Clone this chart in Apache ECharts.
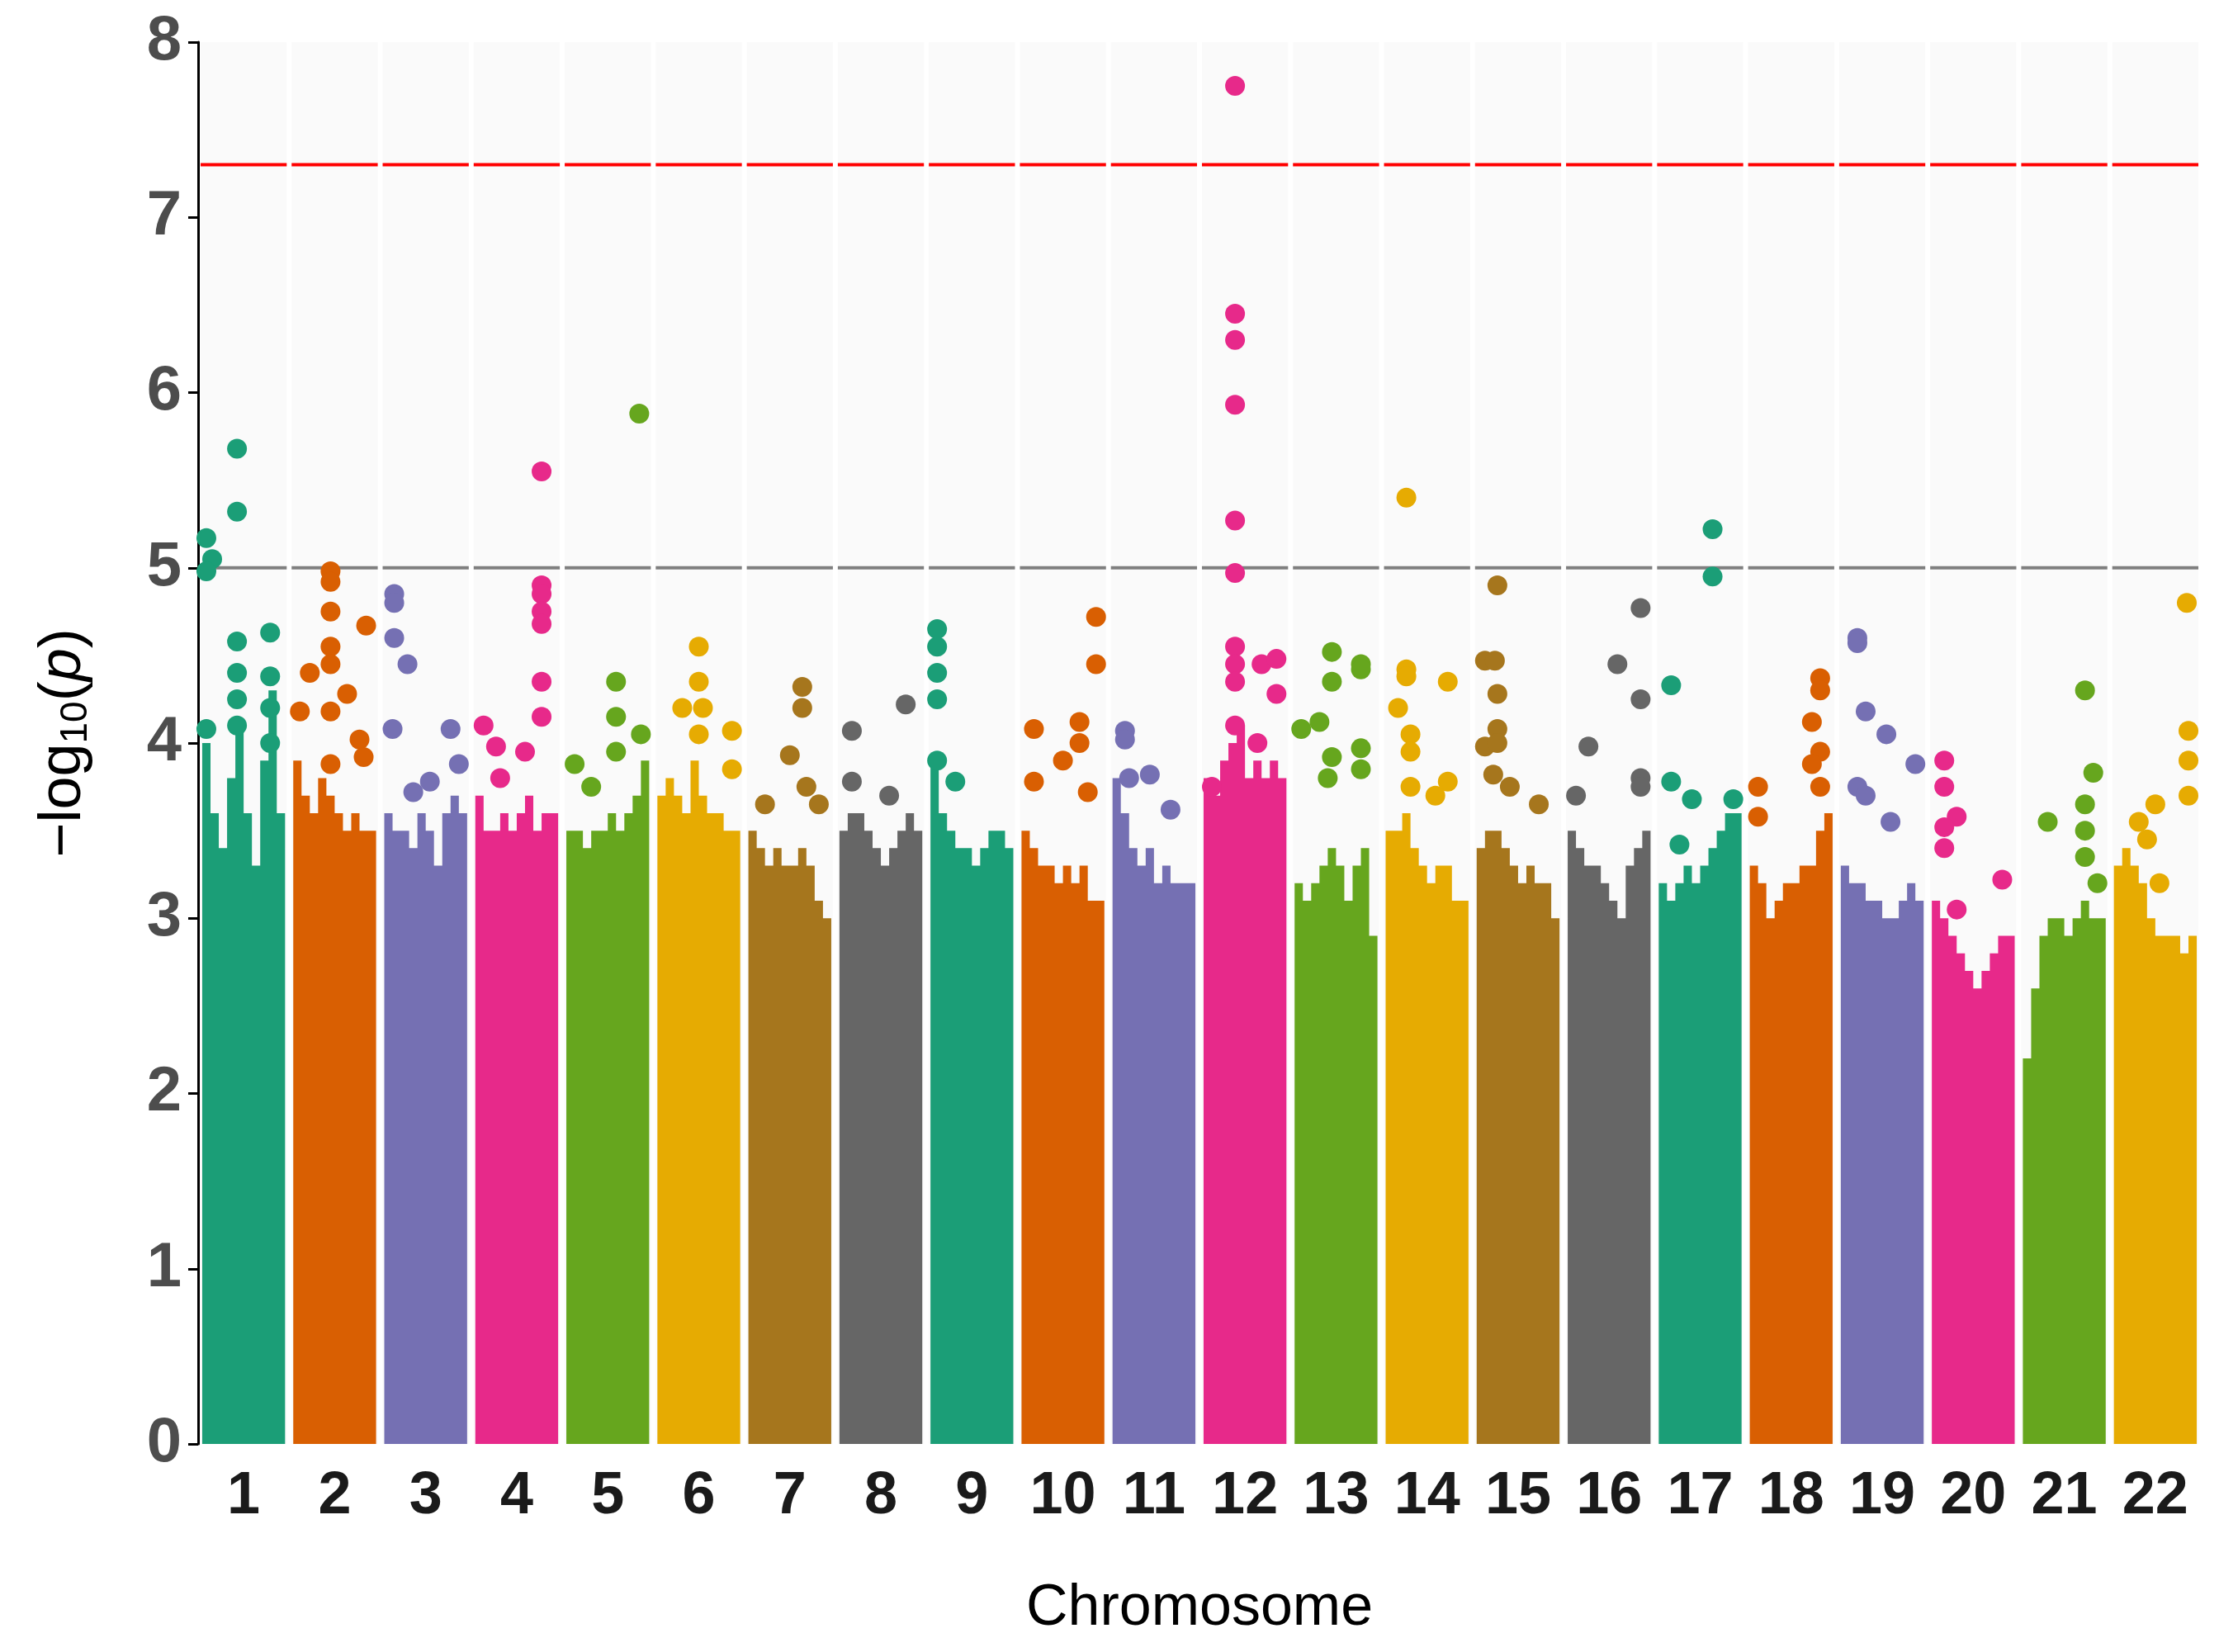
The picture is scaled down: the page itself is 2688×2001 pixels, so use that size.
<!DOCTYPE html>
<html>
<head>
<meta charset="utf-8">
<script src="https://cdn.jsdelivr.net/npm/echarts@6/dist/echarts.min.js"></script>
<style>html,body{margin:0;padding:0;background:#fff}#chart{width:2688px;height:2001px}</style>
</head>
<body>
<div id="chart"></div>
<script>
// chromosome names and Dark2 colours
const chromosomes = ['1','2','3','4','5','6','7','8','9','10','11','12','13','14','15','16','17','18','19','20','21','22'];
const palette = ['#1B9E77','#D95F02','#7570B3','#E7298A','#66A61E','#E6AB02','#A6761D','#666666'];
const yTicks = [0, 1, 2, 3, 4, 5, 6, 7, 8];
const genomeLine = 7.3;
const suggestiveLine = 5;

// ragged top of the dense point cloud, per chromosome (left to right)
const bodyTop = [
  [4.0,3.6,3.4,3.8,4.1,3.6,3.3,3.9,4.3,3.6],
  [3.9,3.7,3.6,3.8,3.7,3.6,3.5,3.6,3.5,3.5],
  [3.6,3.5,3.5,3.4,3.6,3.5,3.3,3.6,3.7,3.6],
  [3.7,3.5,3.5,3.6,3.5,3.6,3.7,3.5,3.6,3.6],
  [3.5,3.5,3.4,3.5,3.5,3.6,3.5,3.6,3.7,3.9],
  [3.7,3.8,3.7,3.6,3.9,3.7,3.6,3.6,3.5,3.5],
  [3.5,3.4,3.3,3.4,3.3,3.3,3.4,3.3,3.1,3.0],
  [3.5,3.6,3.6,3.5,3.4,3.3,3.4,3.5,3.6,3.5],
  [3.9,3.6,3.5,3.4,3.4,3.3,3.4,3.5,3.5,3.4],
  [3.5,3.4,3.3,3.3,3.2,3.3,3.2,3.3,3.1,3.1],
  [3.8,3.6,3.4,3.3,3.4,3.2,3.3,3.2,3.2,3.2],
  [3.8,3.7,3.9,4.0,4.1,3.8,3.9,3.8,3.9,3.8],
  [3.2,3.1,3.2,3.3,3.4,3.3,3.1,3.3,3.4,2.9],
  [3.5,3.5,3.6,3.4,3.3,3.2,3.3,3.3,3.1,3.1],
  [3.4,3.5,3.5,3.4,3.3,3.2,3.3,3.2,3.2,3.0],
  [3.5,3.4,3.3,3.3,3.2,3.1,3.0,3.3,3.4,3.5],
  [3.2,3.1,3.2,3.3,3.2,3.3,3.4,3.5,3.6,3.6],
  [3.3,3.2,3.0,3.1,3.2,3.2,3.3,3.3,3.5,3.6],
  [3.3,3.2,3.2,3.1,3.1,3.0,3.0,3.1,3.2,3.1],
  [3.1,3.0,2.9,2.8,2.7,2.6,2.7,2.8,2.9,2.9],
  [2.2,2.6,2.9,3.0,3.0,2.9,3.0,3.1,3.0,3.0],
  [3.3,3.4,3.3,3.2,3.0,2.9,2.9,2.9,2.8,2.9]
];

// individual SNPs above the cloud: [chromosome index, position fraction, -log10 p]
const peaks = [
  [0,0.05,5.17],[0,0.12,5.05],[0,0.05,4.98],[0,0.42,5.68],[0,0.42,5.32],[0,0.42,4.58],[0,0.42,4.4],[0,0.82,4.63],[0,0.82,4.38],[0,0.82,4.2],[0,0.05,4.08],[0,0.42,4.25],[0,0.42,4.1],[0,0.82,4.0],
  [1,0.45,4.98],[1,0.45,4.92],[1,0.45,4.75],[1,0.45,4.55],[1,0.45,4.45],[1,0.2,4.4],[1,0.65,4.28],[1,0.88,4.67],[1,0.08,4.18],[1,0.45,4.18],[1,0.8,4.02],[1,0.85,3.92],[1,0.45,3.88],
  [2,0.12,4.85],[2,0.12,4.8],[2,0.12,4.6],[2,0.28,4.45],[2,0.1,4.08],[2,0.8,4.08],[2,0.55,3.78],[2,0.35,3.72],[2,0.9,3.88],
  [3,0.8,5.55],[3,0.8,4.9],[3,0.8,4.85],[3,0.8,4.75],[3,0.8,4.68],[3,0.8,4.35],[3,0.8,4.15],[3,0.1,4.1],[3,0.25,3.98],[3,0.6,3.95],[3,0.3,3.8],
  [4,0.88,5.88],[4,0.6,4.35],[4,0.6,4.15],[4,0.6,3.95],[4,0.1,3.88],[4,0.9,4.05],[4,0.3,3.75],
  [5,0.5,4.55],[5,0.5,4.35],[5,0.3,4.2],[5,0.55,4.2],[5,0.9,4.07],[5,0.5,4.05],[5,0.9,3.85],
  [6,0.65,4.32],[6,0.65,4.2],[6,0.5,3.93],[6,0.7,3.75],[6,0.85,3.65],[6,0.2,3.65],
  [7,0.15,4.07],[7,0.8,4.22],[7,0.15,3.78],[7,0.6,3.7],
  [8,0.08,4.65],[8,0.08,4.55],[8,0.08,4.4],[8,0.08,4.25],[8,0.08,3.9],[8,0.3,3.78],
  [9,0.9,4.72],[9,0.9,4.45],[9,0.15,4.08],[9,0.7,4.12],[9,0.7,4.0],[9,0.5,3.9],[9,0.15,3.78],[9,0.8,3.72],
  [10,0.15,4.07],[10,0.15,4.02],[10,0.45,3.82],[10,0.2,3.8],[10,0.7,3.62],
  [11,0.38,7.75],[11,0.38,6.45],[11,0.38,6.3],[11,0.38,5.93],[11,0.38,5.27],[11,0.38,4.97],[11,0.38,4.55],[11,0.38,4.45],[11,0.38,4.35],[11,0.7,4.45],[11,0.88,4.48],[11,0.88,4.28],[11,0.38,4.1],[11,0.65,4.0],[11,0.1,3.75],
  [12,0.45,4.52],[12,0.8,4.45],[12,0.8,4.42],[12,0.45,4.35],[12,0.3,4.12],[12,0.08,4.08],[12,0.8,3.97],[12,0.45,3.92],[12,0.4,3.8],[12,0.8,3.85],
  [13,0.25,5.4],[13,0.25,4.42],[13,0.25,4.38],[13,0.75,4.35],[13,0.15,4.2],[13,0.3,4.05],[13,0.3,3.95],[13,0.3,3.75],[13,0.75,3.78],[13,0.6,3.7],
  [14,0.25,4.9],[14,0.1,4.47],[14,0.22,4.47],[14,0.25,4.28],[14,0.25,4.08],[14,0.1,3.98],[14,0.25,4.0],[14,0.2,3.82],[14,0.4,3.75],[14,0.75,3.65],
  [15,0.88,4.77],[15,0.6,4.45],[15,0.88,4.25],[15,0.25,3.98],[15,0.88,3.8],[15,0.88,3.75],[15,0.1,3.7],
  [16,0.65,5.22],[16,0.65,4.95],[16,0.15,4.33],[16,0.15,3.78],[16,0.4,3.68],[16,0.9,3.68],[16,0.25,3.42],
  [17,0.85,4.37],[17,0.85,4.3],[17,0.75,4.12],[17,0.85,3.95],[17,0.75,3.88],[17,0.1,3.75],[17,0.85,3.75],[17,0.1,3.58],
  [18,0.2,4.6],[18,0.2,4.57],[18,0.3,4.18],[18,0.55,4.05],[18,0.9,3.88],[18,0.2,3.75],[18,0.3,3.7],[18,0.6,3.55],
  [19,0.15,3.9],[19,0.15,3.75],[19,0.3,3.58],[19,0.15,3.52],[19,0.15,3.4],[19,0.85,3.22],[19,0.3,3.05],
  [20,0.75,4.3],[20,0.85,3.83],[20,0.75,3.65],[20,0.75,3.5],[20,0.3,3.55],[20,0.75,3.35],[20,0.9,3.2],
  [21,0.88,4.8],[21,0.9,4.07],[21,0.9,3.9],[21,0.9,3.7],[21,0.5,3.65],[21,0.3,3.55],[21,0.4,3.45],[21,0.55,3.2]
];

const margin = 0.045;
const colorOf = i => palette[i % palette.length];
const xPos = (i, f) => i + margin + f * (1 - 2 * margin);

const chart = echarts.init(document.getElementById('chart'));

// facet background + threshold segments per chromosome
const panelSeries = {
  type: 'custom', xAxisIndex: 1, silent: true, z: 1,
  data: chromosomes.map((c, i) => [i]),
  renderItem: (params, api) => {
    const i = api.value(0);
    const a = api.coord([i + margin * 0.6, 8]);
    const b = api.coord([i + 1 - margin * 0.6, 0]);
    const r = api.coord([0, genomeLine])[1];
    const g = api.coord([0, suggestiveLine])[1];
    return { type: 'group', children: [
      { type: 'rect', shape: { x: a[0], y: a[1], width: b[0] - a[0], height: b[1] - a[1] }, style: { fill: '#fafafa' } },
      { type: 'line', shape: { x1: a[0], y1: r, x2: b[0], y2: r }, style: { stroke: '#ff0000', lineWidth: 4 } },
      { type: 'line', shape: { x1: a[0], y1: g, x2: b[0], y2: g }, style: { stroke: '#7f7f7f', lineWidth: 4 } }
    ]};
  }
};

// solid point cloud of each chromosome
const bodySeries = {
  type: 'custom', xAxisIndex: 1, silent: true, z: 2,
  data: chromosomes.map((c, i) => [i]),
  renderItem: (params, api) => {
    const i = api.value(0);
    const prof = bodyTop[i];
    const pts = [api.coord([xPos(i, 0), 0])];
    prof.forEach((h, k) => {
      const f0 = k / prof.length, f1 = (k + 1) / prof.length;
      pts.push(api.coord([xPos(i, f0), h]));
      pts.push(api.coord([xPos(i, f1), h]));
    });
    pts.push(api.coord([xPos(i, 1), 0]));
    return { type: 'polygon', shape: { points: pts }, style: { fill: colorOf(i) } };
  }
};

const peakSeries = {
  type: 'scatter', xAxisIndex: 1, z: 3, symbolSize: 24,
  data: peaks.map(p => ({ value: [xPos(p[0], p[1]), p[2]], itemStyle: { color: colorOf(p[0]), opacity: 1 } }))
};

chart.setOption({
  animation: false,
  backgroundColor: '#fff',
  grid: { left: 240, right: 22, top: 51, bottom: 252 },
  xAxis: [
    { type: 'category', data: chromosomes, boundaryGap: true,
      axisLine: { show: false },
      axisTick: { show: false },
      axisLabel: { color: '#1a1a1a', fontSize: 72, fontWeight: 'bold', fontFamily: 'Liberation Sans', margin: 28, interval: 0 },
      name: 'Chromosome', nameLocation: 'middle', nameGap: 165,
      nameTextStyle: { color: '#000', fontSize: 70, fontFamily: 'Liberation Sans' } },
    { type: 'value', min: 0, max: 22, show: false }
  ],
  yAxis: {
    type: 'value', min: 0, max: 8, interval: 1,
    splitLine: { show: false },
    axisLine: { show: true, lineStyle: { color: '#000', width: 3 } },
    axisTick: { show: true, length: 12, lineStyle: { color: '#000', width: 3 } },
    axisLabel: { color: '#4d4d4d', fontSize: 76, fontWeight: 'bold', fontFamily: 'Liberation Sans', margin: 20,
      formatter: v => yTicks.includes(v) ? String(v) : '' },
    name: '−log{sub|10}({it|p})', nameLocation: 'middle', nameGap: 125, nameRotate: 90,
    nameTextStyle: { color: '#000', fontSize: 72, fontFamily: 'Liberation Sans',
      rich: { sub: { fontSize: 46, verticalAlign: 'bottom', padding: [30, 0, 0, 0], fontFamily: 'Liberation Sans' },
              it: { fontSize: 72, fontStyle: 'italic', fontFamily: 'Liberation Sans' } } }
  },
  series: [panelSeries, bodySeries, peakSeries]
});
</script>
</body>
</html>
